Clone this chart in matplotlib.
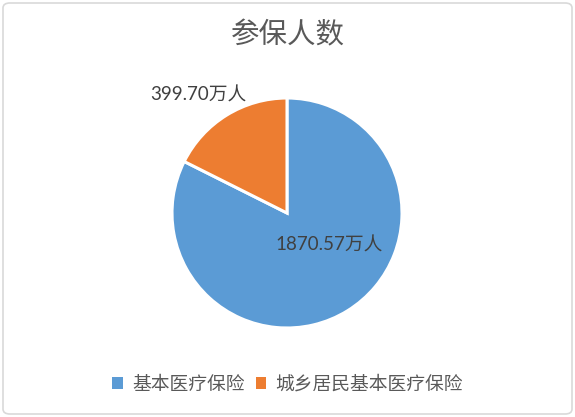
import matplotlib
matplotlib.use("Agg")
import matplotlib.pyplot as plt
from matplotlib.patches import FancyBboxPatch, Patch

categories = ["基本医疗保险", "城乡居民基本医疗保险"]
values = [1870.57, 399.70]
label_texts = ["1870.57万人", "399.70万人"]
colors = ["#5B9BD5", "#ED7D31"]
title = "参保人数"

plt.rcParams['font.family'] = ['Noto Sans CJK SC', 'DejaVu Sans']

W, H = 575, 417
fig = plt.figure(figsize=(W / 100, H / 100), dpi=100)
fig.patch.set_facecolor("white")

# border
border = FancyBboxPatch((3 / W, 3 / H), 1 - 6 / W, 1 - 6 / H,
                        boxstyle="round,pad=0,rounding_size=0.012",
                        transform=fig.transFigure, facecolor="none",
                        edgecolor="#D9D9D9", linewidth=1.2, zorder=-1)
fig.patches.append(border)

cx, cy, r = 287, 213, 115
ax = fig.add_axes([(cx - r) / W, (H - cy - r) / H, 2 * r / W, 2 * r / H])
wedges, _ = ax.pie(values, colors=colors, startangle=90, counterclock=False,
                   radius=1, wedgeprops=dict(edgecolor="white", linewidth=2.2))
ax.set_xlim(-1, 1)
ax.set_ylim(-1, 1)
ax.set_aspect("auto")
ax.axis("off")

label_pos = [(0.37, -0.28), (-0.77, 1.03)]
for (x, y), t in zip(label_pos, label_texts):
    ax.text(x, y, t, ha="center", va="center", fontsize=13.5, color="#404040",
            family=['Lato', 'Noto Sans CJK SC'], clip_on=False)

fig.text(0.5, 1 - 35 / H, title, ha="center", va="center", fontsize=20.5,
         color="#595959")

handles = [Patch(facecolor=c, edgecolor="none") for c in colors]
fig.legend(handles, categories, loc="center", bbox_to_anchor=(0.5, 1 - 384 / H),
           ncol=2, frameon=False, fontsize=13.5, handlelength=0.55, handleheight=0.55,
           handletextpad=0.5, columnspacing=0.6, labelcolor="#595959")

fig.savefig("out.png", dpi=100)
